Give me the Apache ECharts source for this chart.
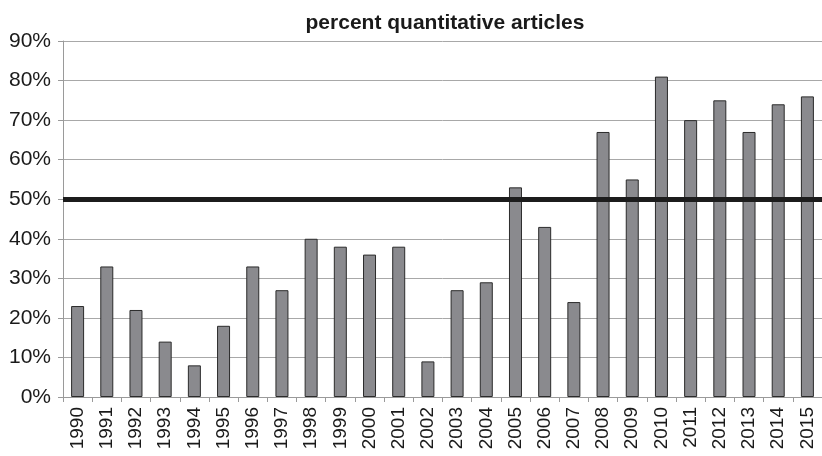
<!DOCTYPE html>
<html>
<head>
<meta charset="utf-8">
<script src="https://cdn.jsdelivr.net/npm/echarts@6/dist/echarts.min.js"></script>
<style>
  html, body { margin: 0; padding: 0; background: #fff; }
  #chart { width: 822px; height: 456px; }
</style>
</head>
<body>
<div id="chart"></div>
<script>
// Share of quantitative articles per year, in percent
const years = ['1990','1991','1992','1993','1994','1995','1996','1997','1998','1999',
  '2000','2001','2002','2003','2004','2005','2006','2007','2008','2009',
  '2010','2011','2012','2013','2014','2015'];
const percentQuantitative = [23, 33, 22, 14, 8, 18, 33, 27, 40, 38,
  36, 38, 9, 27, 29, 53, 43, 24, 67, 55,
  81, 70, 75, 67, 74, 76];
const thresholdLevel = 50;
const yTicks = { min: 0, max: 90, step: 10 };

const chart = echarts.init(document.getElementById('chart'), null, { renderer: 'canvas' });

const font = 'Liberation Sans, Arial, Helvetica, sans-serif';

chart.setOption({
  animation: false,
  backgroundColor: '#ffffff',
  title: {
    text: 'percent quantitative articles',
    left: 440,
    textAlign: 'center',
    top: 8,
    textStyle: { fontFamily: font, fontSize: 21, fontWeight: 'bold', color: '#1a1a1a' }
  },
  grid: { left: 63, top: 41, bottom: 59, right: -12, containLabel: false },
  xAxis: {
    type: 'category',
    data: years,
    boundaryGap: true,
    axisLine: { show: true, lineStyle: { color: '#9a9a9a', width: 1 } },
    axisTick: { show: true, alignWithLabel: false, length: 5, lineStyle: { color: '#9a9a9a' } },
    axisLabel: {
      interval: 0,
      rotate: 90,
      margin: 10,
      fontFamily: font,
      fontSize: 19,
      color: '#1a1a1a'
    },
    splitLine: { show: false }
  },
  yAxis: {
    type: 'value',
    min: yTicks.min,
    max: yTicks.max,
    interval: yTicks.step,
    axisLine: { show: true, lineStyle: { color: '#9a9a9a', width: 1 } },
    axisTick: { show: true, length: 5, lineStyle: { color: '#9a9a9a' } },
    axisLabel: {
      formatter: '{value}%',
      margin: 12,
      fontFamily: font,
      fontSize: 21,
      color: '#1a1a1a'
    },
    splitLine: { show: true, lineStyle: { color: '#a8a8a8', width: 1 } }
  },
  series: [{
    type: 'bar',
    data: percentQuantitative,
    barWidth: 13,
    itemStyle: { color: '#8a8a8e', borderColor: '#2b2b2b', borderWidth: 1 },
    markLine: {
      silent: true,
      symbol: ['none', 'none'],
      label: { show: false },
      lineStyle: { color: '#1c1c1c', width: 5, type: 'solid' },
      data: [{ yAxis: thresholdLevel }],
      z: 10
    }
  }]
});
</script>
</body>
</html>
